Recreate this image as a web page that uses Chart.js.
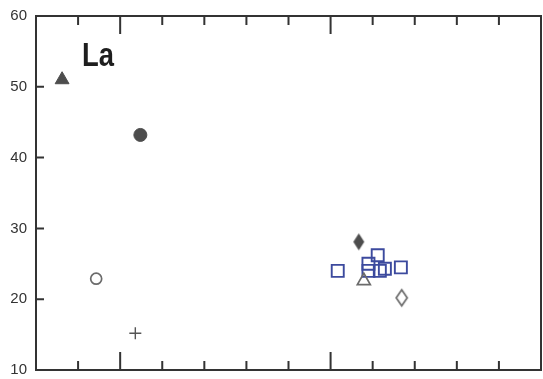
<!DOCTYPE html>
<html>
<head>
<meta charset="utf-8">
<script src="https://cdn.jsdelivr.net/npm/chart.js@4"></script>
<style>
    html, body { margin: 0; padding: 0; background: #fff; overflow: hidden; }
    #laChart { display: block; }
</style>
</head>
<body>
<canvas id="laChart" width="543" height="379"></canvas>
<script>
// values
const triFilledX = [-1.38];
const triFilledY = [51.0];
const circFilledX = [0.48];
const circFilledY = [43.2];
const circOpenX = [-0.57];
const circOpenY = [22.9];
const plusX = [0.36];
const plusY = [15.2];
const diaFilledX = [5.67];
const diaFilledY = [28.1];
const triOpenX = [5.79];
const triOpenY = [22.6];
const diaOpenX = [6.69];
const diaOpenY = [20.2];
const squareX = [5.17, 6.12, 5.90, 5.90, 6.17, 6.29, 6.67];
const squareY = [24.0, 26.2, 25.0, 24.0, 24.0, 24.3, 24.5];

const yTicks = [10, 20, 30, 40, 50, 60];
const xMajorTicks = [0, 5, 10];
const xMinorTicks = [-1, 1, 2, 3, 4, 6, 7, 8, 9];

function pts(xs, ys) {
    return xs.map((x, i) => ({ x: x, y: ys[i] }));
}

// tall diamond marker (rectRot is too square)
function diamond(w, h, fill, stroke) {
    const c = document.createElement("canvas");
    c.width = w + 4;
    c.height = h + 4;
    const g = c.getContext("2d");
    g.beginPath();
    g.moveTo(c.width / 2, 2);
    g.lineTo(c.width - 2, c.height / 2);
    g.lineTo(c.width / 2, c.height - 2);
    g.lineTo(2, c.height / 2);
    g.closePath();
    if (fill) {
        g.fillStyle = fill;
        g.fill();
    }
    if (stroke) {
        g.strokeStyle = stroke;
        g.lineWidth = 1.7;
        g.stroke();
    }
    return c;
}

// frame, inward ticks and the "La" label
const framePlugin = {
    id: "frame",
    afterDraw(chart) {
        const ctx = chart.ctx;
        const a = chart.chartArea;
        const xs = chart.scales.x;
        const ys = chart.scales.y;
        ctx.save();
        ctx.strokeStyle = "#333";
        ctx.lineWidth = 2;
        ctx.strokeRect(a.left, a.top, a.right - a.left, a.bottom - a.top);

        ctx.beginPath();
        yTicks.forEach((v) => {
            const py = ys.getPixelForValue(v);
            ctx.moveTo(a.left, py);
            ctx.lineTo(a.left + 8, py);
        });
        xMinorTicks.forEach((v) => {
            const px = xs.getPixelForValue(v);
            ctx.moveTo(px, a.bottom);
            ctx.lineTo(px, a.bottom - 9);
            ctx.moveTo(px, a.top);
            ctx.lineTo(px, a.top + 9);
        });
        xMajorTicks.forEach((v) => {
            const px = xs.getPixelForValue(v);
            ctx.moveTo(px, a.bottom);
            ctx.lineTo(px, a.bottom - 18);
            ctx.moveTo(px, a.top);
            ctx.lineTo(px, a.top + 18);
        });
        ctx.stroke();

        ctx.fillStyle = "#1e1e1e";
        ctx.font = "bold 33px 'Liberation Sans', Arial, sans-serif";
        ctx.textBaseline = "alphabetic";
        ctx.translate(82, 66);
        ctx.scale(0.83, 1);
        ctx.fillText("La", 0, 0);
        ctx.restore();
    },
};

new Chart(document.getElementById("laChart"), {
    type: "scatter",
    data: {
        datasets: [
            {
                data: pts(triFilledX, triFilledY),
                pointStyle: "triangle",
                pointRadius: 8,
                backgroundColor: "#4d4d4d",
                borderColor: "#4d4d4d",
            },
            {
                data: pts(circFilledX, circFilledY),
                pointStyle: "circle",
                pointRadius: 6.5,
                backgroundColor: "#4d4d4d",
                borderColor: "#4d4d4d",
            },
            {
                data: pts(circOpenX, circOpenY),
                pointStyle: "circle",
                pointRadius: 5.5,
                backgroundColor: "rgba(255,255,255,0)",
                borderColor: "#6b6b6b",
                borderWidth: 1.7,
            },
            {
                data: pts(plusX, plusY),
                pointStyle: "cross",
                pointRadius: 6,
                borderColor: "#555",
                borderWidth: 1.4,
            },
            {
                data: pts(diaFilledX, diaFilledY),
                pointStyle: diamond(11, 17, "#4d4d4d", null),
            },
            {
                data: pts(triOpenX, triOpenY),
                pointStyle: "triangle",
                pointRadius: 7.5,
                backgroundColor: "rgba(255,255,255,0)",
                borderColor: "#6b6b6b",
                borderWidth: 1.7,
            },
            {
                data: pts(diaOpenX, diaOpenY),
                pointStyle: diamond(11, 16, null, "#6b6b6b"),
            },
            {
                data: pts(squareX, squareY),
                pointStyle: "rect",
                pointRadius: 8.5,
                backgroundColor: "rgba(255,255,255,0)",
                borderColor: "#3c4a9e",
                borderWidth: 1.9,
            },
        ],
    },
    options: {
        responsive: false,
        animation: false,
        layout: {
            autoPadding: false,
            padding: { top: 16, right: 2, bottom: 9, left: 0 },
        },
        scales: {
            x: {
                type: "linear",
                min: -2,
                max: 10,
                display: false,
            },
            y: {
                type: "linear",
                min: 10,
                max: 60,
                afterFit: function (scale) {
                    scale.width = 36;
                    scale.paddingTop = 0;
                    scale.paddingBottom = 0;
                },
                afterBuildTicks: function (scale) {
                    scale.ticks = yTicks.map((v) => ({ value: v }));
                },
                grid: { display: false, drawTicks: false },
                border: { display: false },
                ticks: {
                    padding: 9,
                    color: "#333",
                    font: { size: 15, family: "'Liberation Sans', Arial, sans-serif" },
                },
            },
        },
        plugins: {
            legend: { display: false },
            tooltip: { enabled: false },
        },
    },
    plugins: [framePlugin],
});
</script>
</body>
</html>
